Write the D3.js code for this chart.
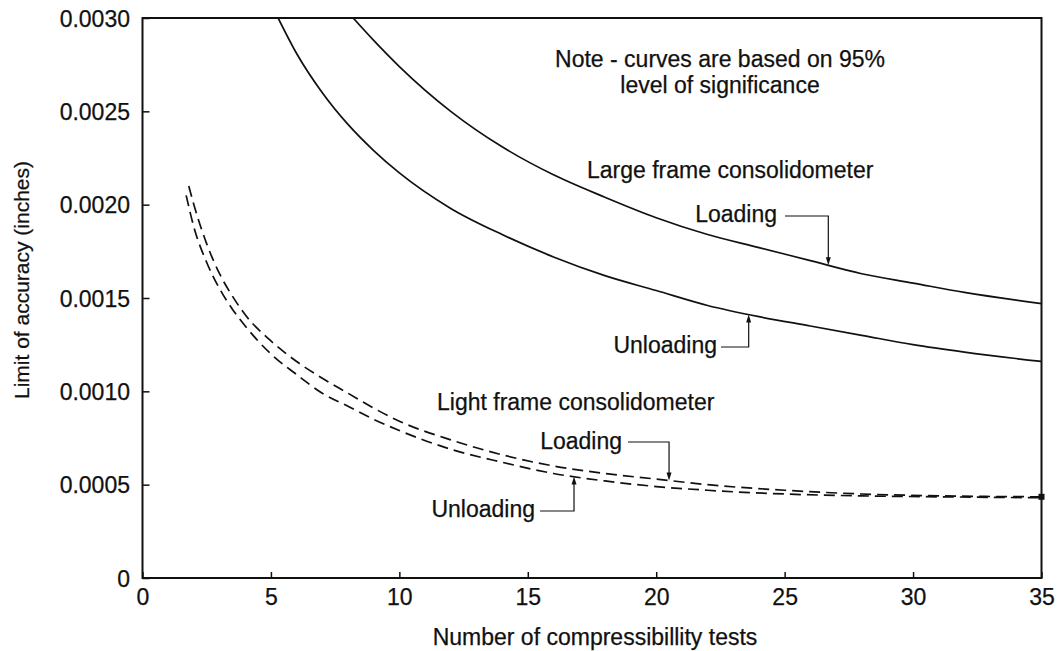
<!DOCTYPE html>
<html>
<head>
<meta charset="utf-8">
<script src="https://cdn.jsdelivr.net/npm/d3@7"></script>
<style>
  html, body { margin: 0; padding: 0; background: #fff; }
  svg { display: block; }
  text { font-family: "Liberation Sans", Arial, Helvetica, sans-serif; fill: #111; stroke: #111; stroke-width: 0.25px; }
</style>
</head>
<body>
<svg id="chart" width="1058" height="651"></svg>
<script>
// Number of compressibility tests (x) vs limit of accuracy in inches (y)
const xTicks = [0, 5, 10, 15, 20, 25, 30, 35];
const yTicks = [0, 0.0005, 0.0010, 0.0015, 0.0020, 0.0025, 0.0030];
const yTickLabels = ["0", "0.0005", "0.0010", "0.0015", "0.0020", "0.0025", "0.0030"];

// Large frame consolidometer
const largeLoadingN = [8.2, 9, 10, 12, 14, 16, 18, 20, 22, 24, 26, 28, 30, 32, 35];
const largeLoadingY = [0.00300, 0.00288, 0.00274, 0.00250, 0.00231, 0.00216, 0.00204, 0.00193,
                       0.00184, 0.00177, 0.00170, 0.00163, 0.00158, 0.00153, 0.00147];
const largeUnloadingN = [5.28, 6, 7, 8, 9, 10, 12, 14, 16, 18, 20, 22, 24, 26, 28, 30, 32, 35];
const largeUnloadingY = [0.00300, 0.00281, 0.00260, 0.00243, 0.00229, 0.00217, 0.00198, 0.00184,
                         0.00172, 0.00162, 0.00154, 0.00146, 0.00140, 0.00135, 0.00130, 0.00125,
                         0.00121, 0.00116];

// Light frame consolidometer
const lightLoadingN = [1.8, 2, 2.5, 3, 3.5, 4, 5, 6, 7, 8, 9, 10, 12, 14, 16, 18, 20, 22, 25, 28, 31, 35];
const lightLoadingY = [0.00210, 0.00200, 0.00179, 0.00163, 0.00151, 0.00141, 0.00127, 0.00116,
                       0.00107, 0.00099, 0.00091, 0.00084, 0.00074, 0.00066, 0.00060, 0.00056,
                       0.00053, 0.00050, 0.00047, 0.00045, 0.00044, 0.000435];
const lightUnloadingN = [1.7, 2, 2.5, 3, 3.5, 4, 5, 6, 7, 8, 9, 10, 12, 14, 16, 18, 20, 22, 25, 28, 31, 35];
const lightUnloadingY = [0.00205, 0.00188, 0.00169, 0.00155, 0.00144, 0.00135, 0.00120, 0.00109,
                         0.00099, 0.00092, 0.00085, 0.00079, 0.00069, 0.00062, 0.00056, 0.00052,
                         0.00049, 0.00047, 0.00045, 0.00044, 0.000435, 0.000430];

const svg = d3.select("#chart");
const plot = { left: 142.5, right: 1041.5, top: 18, bottom: 578 };

const x = d3.scaleLinear().domain([0, 35]).range([plot.left, plot.right]);
const y = d3.scaleLinear().domain([0, 0.0030]).range([plot.bottom, plot.top]);

const ink = "#111";

function label(str, px, py, anchor = "start", size = 23) {
  return svg.append("text")
    .attr("x", px).attr("y", py)
    .attr("text-anchor", anchor)
    .style("font-size", size + "px")
    .text(str);
}

// Frame
svg.append("rect")
  .attr("x", plot.left).attr("y", plot.top)
  .attr("width", plot.right - plot.left).attr("height", plot.bottom - plot.top)
  .attr("fill", "none").attr("stroke", ink).attr("stroke-width", 2);

// Axes with inward ticks
const xAxis = d3.axisBottom(x).tickValues(xTicks).tickSize(-6).tickPadding(11).tickFormat(d3.format("d"));
const yAxis = d3.axisLeft(y).tickValues(yTicks).tickSize(-7).tickPadding(12.5)
  .tickFormat((d, i) => yTickLabels[i]);

const gx = svg.append("g").attr("transform", `translate(0,${plot.bottom})`).call(xAxis);
const gy = svg.append("g").attr("transform", `translate(${plot.left},0)`).call(yAxis);
[gx, gy].forEach(g => {
  g.select(".domain").remove();
  g.selectAll(".tick line").attr("stroke", ink).attr("stroke-width", 1.5);
  g.selectAll(".tick text").attr("fill", ink).attr("stroke", ink).attr("stroke-width", 0.25)
    .style("font-family", '"Liberation Sans", Arial, sans-serif').style("font-size", "23px");
});
gx.selectAll(".tick text").attr("dy", "0.71em");
gy.selectAll(".tick text").attr("dy", "0.36em");

// Axis titles
label("Number of compressibillity tests", 595, 645, "middle", 23);
svg.append("text")
  .attr("transform", "translate(29,280) rotate(-90)")
  .attr("text-anchor", "middle")
  .style("font-size", "21px")
  .text("Limit of accuracy (inches)");

// Curves
const line = d3.line().x(d => x(d[0])).y(d => y(d[1])).curve(d3.curveMonotoneX);
const zip = (a, b) => a.map((v, i) => [v, b[i]]);

const series = [
  { pts: zip(largeLoadingN, largeLoadingY), dash: null },
  { pts: zip(largeUnloadingN, largeUnloadingY), dash: null },
  { pts: zip(lightLoadingN, lightLoadingY), dash: "11,6" },
  { pts: zip(lightUnloadingN, lightUnloadingY), dash: "11,6" }
];

svg.append("clipPath").attr("id", "plotclip").append("rect")
  .attr("x", plot.left).attr("y", plot.top)
  .attr("width", plot.right - plot.left).attr("height", plot.bottom - plot.top);

svg.append("g").attr("clip-path", "url(#plotclip)")
  .selectAll("path").data(series).join("path")
  .attr("d", d => line(d.pts))
  .attr("fill", "none").attr("stroke", ink).attr("stroke-width", 1.7)
  .attr("stroke-dasharray", d => d.dash);

// End marker where the light frame curves meet the right edge
svg.append("rect")
  .attr("x", x(35) - 3).attr("y", y(lightLoadingY[lightLoadingY.length - 1]) - 3)
  .attr("width", 6).attr("height", 6).attr("fill", ink);

// Value of a series at n (linear between read points)
function valueAt(ns, ys, n) {
  const i = Math.max(1, d3.bisectLeft(ns, n));
  const t = (n - ns[i - 1]) / (ns[i] - ns[i - 1]);
  return ys[i - 1] + t * (ys[i] - ys[i - 1]);
}

// Leader with arrowhead: text end -> horizontal run -> vertical to the curve
function leader(x0, yLead, n, ns, ys) {
  const xt = x(n);
  const yt = y(valueAt(ns, ys, n));
  const dir = yt > yLead ? 1 : -1;
  svg.append("path")
    .attr("d", `M${x0},${yLead}H${xt}V${yt - dir * 6}`)
    .attr("fill", "none").attr("stroke", ink).attr("stroke-width", 1.2);
  svg.append("path")
    .attr("d", `M${xt},${yt}L${xt - 2.5},${yt - dir * 8}L${xt + 2.5},${yt - dir * 8}Z`)
    .attr("fill", ink);
}

// Annotations
label("Note - curves are based on 95%", 720, 67, "middle");
label("level of significance", 720, 93, "middle");

label("Large frame consolidometer", 587, 178);
label("Loading", 777, 222, "end");
leader(785, 216, 26.7, largeLoadingN, largeLoadingY);
label("Unloading", 717, 353, "end");
leader(721, 347, 23.6, largeUnloadingN, largeUnloadingY);

label("Light frame consolidometer", 437, 410);
label("Loading", 622, 449, "end");
leader(628, 442, 20.5, lightLoadingN, lightLoadingY);
label("Unloading", 535, 517, "end");
leader(540, 511, 16.8, lightUnloadingN, lightUnloadingY);
</script>
</body>
</html>
